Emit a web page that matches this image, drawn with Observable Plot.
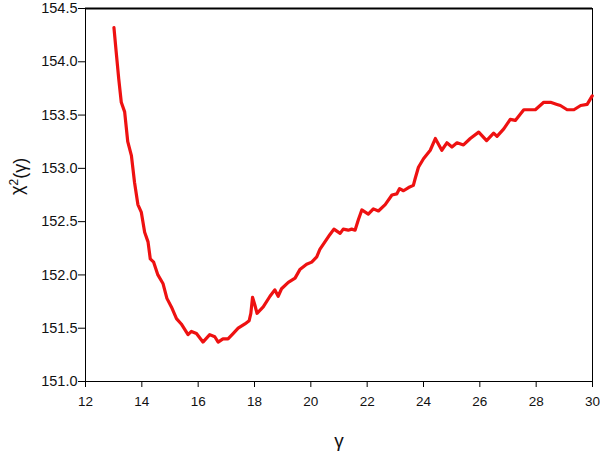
<!DOCTYPE html>
<html>
<head>
<meta charset="utf-8">
<script src="https://cdn.jsdelivr.net/npm/d3@7"></script>
<script src="https://cdn.jsdelivr.net/npm/@observablehq/plot@0.6"></script>
<style>
  html, body { margin: 0; padding: 0; background: #fff; }
  #chart { width: 600px; height: 451px; }
</style>
</head>
<body>
<div id="chart"></div>
<script>
const gamma = [13.01,13.09,13.18,13.27,13.39,13.50,13.63,13.74,13.86,13.98,14.10,14.22,14.30,14.42,14.57,14.75,14.89,15.05,15.23,15.40,15.64,15.76,15.94,16.17,16.41,16.59,16.71,16.88,17.06,17.24,17.42,17.66,17.81,17.87,17.93,18.01,18.09,18.31,18.55,18.72,18.84,18.96,19.20,19.44,19.61,19.85,20.03,20.21,20.32,20.50,20.68,20.82,21.04,21.15,21.33,21.45,21.57,21.69,21.81,22.04,22.22,22.40,22.64,22.88,23.05,23.15,23.29,23.47,23.64,23.70,23.82,24.00,24.24,24.42,24.65,24.83,25.01,25.19,25.42,25.66,25.96,26.24,26.49,26.61,26.85,27.08,27.26,27.56,27.97,28.27,28.51,28.74,28.86,29.10,29.34,29.58,29.81,29.99];
const chi2 = [154.32,154.09,153.84,153.62,153.53,153.25,153.12,152.87,152.66,152.59,152.40,152.31,152.15,152.12,152.00,151.92,151.78,151.70,151.59,151.54,151.44,151.47,151.45,151.37,151.44,151.42,151.37,151.40,151.40,151.45,151.50,151.54,151.57,151.64,151.79,151.72,151.64,151.70,151.80,151.86,151.80,151.87,151.93,151.97,152.05,152.10,152.12,152.17,152.24,152.31,152.38,152.43,152.39,152.43,152.42,152.43,152.42,152.52,152.61,152.57,152.62,152.60,152.66,152.75,152.76,152.81,152.79,152.82,152.84,152.90,153.01,153.09,153.17,153.28,153.17,153.24,153.20,153.24,153.22,153.28,153.34,153.26,153.33,153.30,153.37,153.46,153.45,153.55,153.55,153.62,153.62,153.60,153.59,153.55,153.55,153.59,153.60,153.68];
const xTicks = [12,14,16,18,20,22,24,26,28,30];
const yTicks = [151.0,151.5,152.0,152.5,153.0,153.5,154.0,154.5];
const xLabel = "γ";
const yLabelParts = ["χ", "2", "(γ)"];

const data = gamma.map((g, i) => ({g, c: chi2[i]}));

const chart = Plot.plot({
  width: 600,
  height: 451,
  marginLeft: 85,
  marginRight: 8,
  marginTop: 8,
  marginBottom: 70,
  style: {fontFamily: "'Liberation Sans', Arial, sans-serif", fontSize: "13px", color: "#111", background: "#fff", overflow: "visible"},
  x: {domain: [12, 30]},
  y: {domain: [151.0, 154.5]},
  marks: [
    Plot.frame({stroke: "#000", strokeWidth: 1}),
    Plot.ruleY([154.5], {stroke: "#000", strokeWidth: 2.2}),
    Plot.axisX({ticks: xTicks, tickSize: 6, tickPadding: 9, label: null, fontSize: 13.5, stroke: "#000"}),
    Plot.axisY({ticks: yTicks, tickSize: 7, tickPadding: 1, label: null, fontSize: 14.5, tickFormat: d3.format(".1f"), stroke: "#000"}),
    Plot.line(data, {x: "g", y: "c", stroke: "#ee1111", strokeWidth: 3.2, strokeLinejoin: "round", strokeLinecap: "round"}),
    Plot.text([xLabel], {frameAnchor: "bottom", dy: 59, fontSize: 19, lineAnchor: "middle", fill: "#111"}),
    Plot.text([yLabelParts.join("")], {frameAnchor: "left", dx: -68, rotate: -90, fontSize: 18, lineAnchor: "middle", fill: "#111", className: "ylab"})
  ]
});
// render superscript 2 as a tspan (text stays real text)
d3.select(chart).selectAll(".ylab text").each(function() {
  const t = d3.select(this);
  t.text(null);
  t.append("tspan").text(yLabelParts[0]);
  t.append("tspan").attr("dy", "-0.45em").attr("font-size", "12px").text(yLabelParts[1]);
  t.append("tspan").attr("dy", "0.45em").text(yLabelParts[2]);
});
document.getElementById("chart").appendChild(chart);
</script>
</body>
</html>
